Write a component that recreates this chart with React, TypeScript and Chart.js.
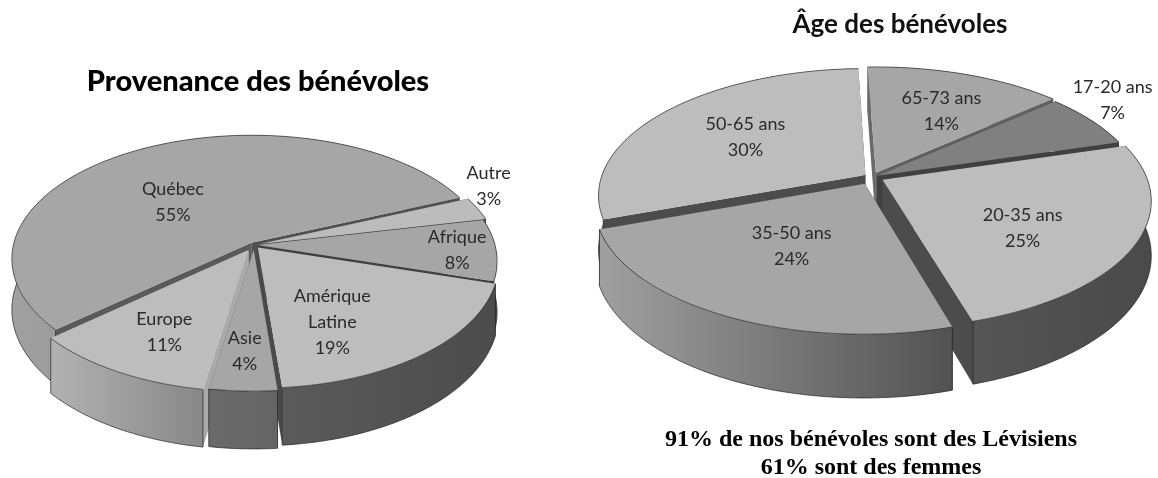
import React, { useEffect, useRef } from "react";
import { Chart, registerables } from "chart.js";

Chart.register(...registerables);

const originCategories = ["Québec", "Autre", "Afrique", ["Amérique", "Latine"], "Asie", "Europe"];
const originValues = [55, 3, 8, 19, 4, 11];
const originTop = ["#a6a6a6", "#bcbcbc", "#a6a6a6", "#bdbdbd", "#a6a6a6", "#bdbdbd"];
const originOffset = [5, 6, 3, 6, 9, 11];
const originWallFrom = ["#a0a0a0", "#555555", "#555555", "#5a5a5a", "#6a6a6a", "#b2b2b2"];
const originWallTo = ["#7c7c7c", "#555555", "#4c4c4c", "#4c4c4c", "#646464", "#888888"];
const originCutStart = ["#5a5a5a", "#505050", "#404040", "#4a4a4a", "#5a5a5a", "#aaaaaa"];
const originCutEnd = ["#505050", "#404040", "#404040", "#4a4a4a", "#5a5a5a", "#aaaaaa"];
const originLabelAngle = [0.44, -0.28, 0.52, 0.672, 0.526, 0.464];
const originLabelRadius = [0.515, 1.17, 0.85, 0.66, 0.78, 0.74];

const ageCategories = ["65-73 ans", "17-20 ans", "20-35 ans", "35-50 ans", "50-65 ans"];
const ageValues = [14, 7, 25, 24, 30];
const ageTop = ["#a6a6a6", "#808080", "#bdbdbd", "#a6a6a6", "#bdbdbd"];
const ageOffset = [10, 6, 12, 16, 8];
const ageWallFrom = ["#5a5a5a", "#4d4d4d", "#555555", "#a0a0a0", "#9a9a9a"];
const ageWallTo = ["#5a5a5a", "#4d4d4d", "#4a4a4a", "#525252", "#888888"];
const ageCutStart = ["#6a6a6a", "#404040", "#4c4c4c", "#4c4c4c", "#4c4c4c"];
const ageCutEnd = ["#606060", "#404040", "#4c4c4c", "#4c4c4c", "#4c4c4c"];
const ageLabelAngle = [0.56, 0.3, 0.58, 0.52, 0.5];
const ageLabelRadius = [0.65, 1.22, 0.66, 0.585, 0.61];

function makeExtrudedPie(cfg: any) {
  const { cx, cy, ky, p, depth, wallFrom, wallTo, cutStart, cutEnd, labelAngle, labelRadius, labelFont, labelColor } = cfg;
  return {
    id: "extrudedPie",
    beforeDatasetsDraw(chart: any) {
      const ctx = chart.ctx;
      const meta = chart.getDatasetMeta(0);
      const R = meta.data[0].outerRadius;
      const project = (dx: number, dy: number, z: number) => {
        const Y = dy / R;
        const s = 1 / (1 - p * Y);
        return [cx + dx * s, cy + Y * ky * s + z * depth * s];
      };
      const slices = meta.data.map((arc: any, i: number) => {
        const a0 = arc.startAngle;
        const a1 = arc.endAngle;
        const mid = (a0 + a1) / 2;
        const off = arc.options.offset || 0;
        const ox = Math.cos(mid) * off;
        const oy = Math.sin(mid) * off;
        return { arc, i, a0, a1, mid, ox, oy };
      });
      const rimPoint = (s: any, a: number, z: number, r = R) =>
        project(s.ox + Math.cos(a) * r, s.oy + Math.sin(a) * r, z);
      const rimPath = (s: any, z: number) => {
        const n = Math.max(2, Math.ceil((s.a1 - s.a0) / 0.025));
        const pts: number[][] = [];
        for (let k = 0; k <= n; k++) pts.push(rimPoint(s, s.a0 + ((s.a1 - s.a0) * k) / n, z));
        return pts;
      };
      const fillPoly = (pts: number[][], style: any, stroke?: string) => {
        ctx.beginPath();
        pts.forEach((q, k) => (k ? ctx.lineTo(q[0], q[1]) : ctx.moveTo(q[0], q[1])));
        ctx.closePath();
        ctx.fillStyle = style;
        ctx.fill();
        if (stroke) {
          ctx.strokeStyle = stroke;
          ctx.lineWidth = 0.8;
          ctx.stroke();
        }
      };
      const order = [...slices].sort((u: any, v: any) => Math.sin(u.mid) - Math.sin(v.mid));
      ctx.save();
      ctx.lineJoin = "round";
      for (const s of order) {
        const apexTop = project(s.ox, s.oy, 0);
        const apexBot = project(s.ox, s.oy, 1);
        const top = rimPath(s, 0);
        const bot = rimPath(s, 1);
        const cuts = [
          { a: s.a0, inner: s.a0 + 0.01, color: cutStart[s.i] },
          { a: s.a1, inner: s.a1 - 0.01, color: cutEnd[s.i] },
        ].map((c) => {
          const P = rimPoint(s, c.a, 0);
          const M = rimPoint(s, c.inner, 0, R * 0.9);
          const ex = P[0] - apexTop[0];
          const ey = P[1] - apexTop[1];
          const side = ex * (M[1] - apexTop[1]) - ey * (M[0] - apexTop[0]);
          const down = ex;
          return { ...c, front: side * down < 0, P, Q: rimPoint(s, c.a, 1) };
        });
        const drawCut = (c: any) =>
          fillPoly([apexTop, c.P, c.Q, apexBot], c.color);
        cuts.filter((c) => !c.front).forEach(drawCut);
        const xs = top.map((q) => q[0]);
        const g = ctx.createLinearGradient(Math.min(...xs), 0, Math.max(...xs), 0);
        g.addColorStop(0, wallFrom[s.i]);
        g.addColorStop(1, wallTo[s.i]);
        fillPoly([...top, ...[...bot].reverse()], g);
        ctx.strokeStyle = "rgba(30,30,30,0.85)";
        ctx.lineWidth = 0.8;
        ctx.beginPath();
        bot.forEach((q, k) => {
          const vis = Math.sin(s.a0 + ((s.a1 - s.a0) * k) / (bot.length - 1)) > -0.2;
          if (vis && k && Math.sin(s.a0 + ((s.a1 - s.a0) * (k - 1)) / (bot.length - 1)) > -0.2) ctx.lineTo(q[0], q[1]);
          else ctx.moveTo(q[0], q[1]);
        });
        ctx.stroke();
        cuts.filter((c) => c.front).forEach(drawCut);
        cuts.forEach((c) => {
          if (Math.sin(c.a) > -0.2) {
            ctx.beginPath();
            ctx.moveTo(c.P[0], c.P[1]);
            ctx.lineTo(c.Q[0], c.Q[1]);
            ctx.stroke();
          }
        });
        fillPoly([apexTop, ...top], s.arc.options.backgroundColor);
        ctx.beginPath();
        top.forEach((q, k) => (k ? ctx.lineTo(q[0], q[1]) : ctx.moveTo(q[0], q[1])));
        ctx.strokeStyle = "rgba(30,30,30,0.8)";
        ctx.lineWidth = 0.8;
        ctx.stroke();
      }
      ctx.font = labelFont;
      ctx.fillStyle = labelColor;
      ctx.textAlign = "center";
      ctx.textBaseline = "middle";
      const values = chart.data.datasets[0].data;
      slices.forEach((s: any) => {
        const a = s.a0 + (s.a1 - s.a0) * labelAngle[s.i];
        const r = R * labelRadius[s.i];
        const q = project(Math.cos(a) * r, Math.sin(a) * r, 0);
        const lines = [...[].concat(chart.data.labels[s.i]), `${values[s.i]}%`];
        lines.forEach((t: string, k: number) => {
          ctx.fillText(t, q[0], q[1] + (k - (lines.length - 1) / 2) * 26);
        });
      });
      ctx.restore();
      return false;
    },
  };
}

function Pie3D(props: any) {
  const ref = useRef<HTMLCanvasElement>(null);
  useEffect(() => {
    const chart = new Chart(ref.current as any, {
      type: "pie",
      data: {
        labels: props.categories,
        datasets: [
          {
            data: props.values,
            backgroundColor: props.top,
            offset: props.offset,
            borderWidth: 0,
            radius: props.radius,
            rotation: props.rotation,
          },
        ],
      },
      options: {
        responsive: false,
        animation: false,
        events: [],
        layout: { padding: 0 },
        plugins: {
          legend: { display: false },
          tooltip: { enabled: false },
          title: {
            display: true,
            text: props.title,
            color: props.titleColor,
            font: { family: "Lato", weight: props.titleWeight, size: props.titleSize },
            padding: { top: props.titleTop, bottom: 0 },
          },
        },
      },
      plugins: [makeExtrudedPie(props.view)],
    } as any);
    return () => chart.destroy();
  }, []);
  return (
    <canvas
      ref={ref}
      width={props.width}
      height={478}
      style={{ position: "absolute", left: props.left, top: 0, width: props.width, height: 478 }}
    />
  );
}

export default function App() {
  return (
    <div style={{ position: "fixed", left: 0, top: 0, width: 1158, height: 478, overflow: "hidden", background: "#fff" }}>
      <Pie3D
        left={0}
        width={516}
        title="Provenance des bénévoles"
        titleColor="#000"
        titleSize={29}
        titleWeight="900"
        titleTop={64}
        categories={originCategories}
        values={originValues}
        top={originTop}
        offset={originOffset}
        radius={238}
        rotation={229}
        view={{
          cx: 254,
          cy: 245,
          ky: 122,
          p: 0.129,
          depth: 50,
          wallFrom: originWallFrom,
          wallTo: originWallTo,
          cutStart: originCutStart,
          cutEnd: originCutEnd,
          labelAngle: originLabelAngle,
          labelRadius: originLabelRadius,
          labelFont: "18px Lato",
          labelColor: "#2a2a2a",
        }}
      />
      <Pie3D
        left={590}
        width={620}
        title="Âge des bénévoles"
        titleColor="#111"
        titleSize={26}
        titleWeight="bold"
        titleTop={9}
        categories={ageCategories}
        values={ageValues}
        top={ageTop}
        offset={ageOffset}
        radius={264}
        rotation={-2}
        view={{
          cx: 282,
          cy: 177,
          ky: 124,
          p: 0.16,
          depth: 53,
          wallFrom: ageWallFrom,
          wallTo: ageWallTo,
          cutStart: ageCutStart,
          cutEnd: ageCutEnd,
          labelAngle: ageLabelAngle,
          labelRadius: ageLabelRadius,
          labelFont: "18px Lato",
          labelColor: "#2a2a2a",
        }}
      />
      <div
        style={{
          position: "absolute",
          left: 590,
          width: 562,
          top: 424,
          textAlign: "center",
          fontFamily: "'Liberation Serif'",
          fontWeight: "bold",
          fontSize: 24,
          lineHeight: "28px",
          color: "#000",
        }}
      >
        91% de nos bénévoles sont des Lévisiens
        <br />
        61% sont des femmes
      </div>
    </div>
  );
}
